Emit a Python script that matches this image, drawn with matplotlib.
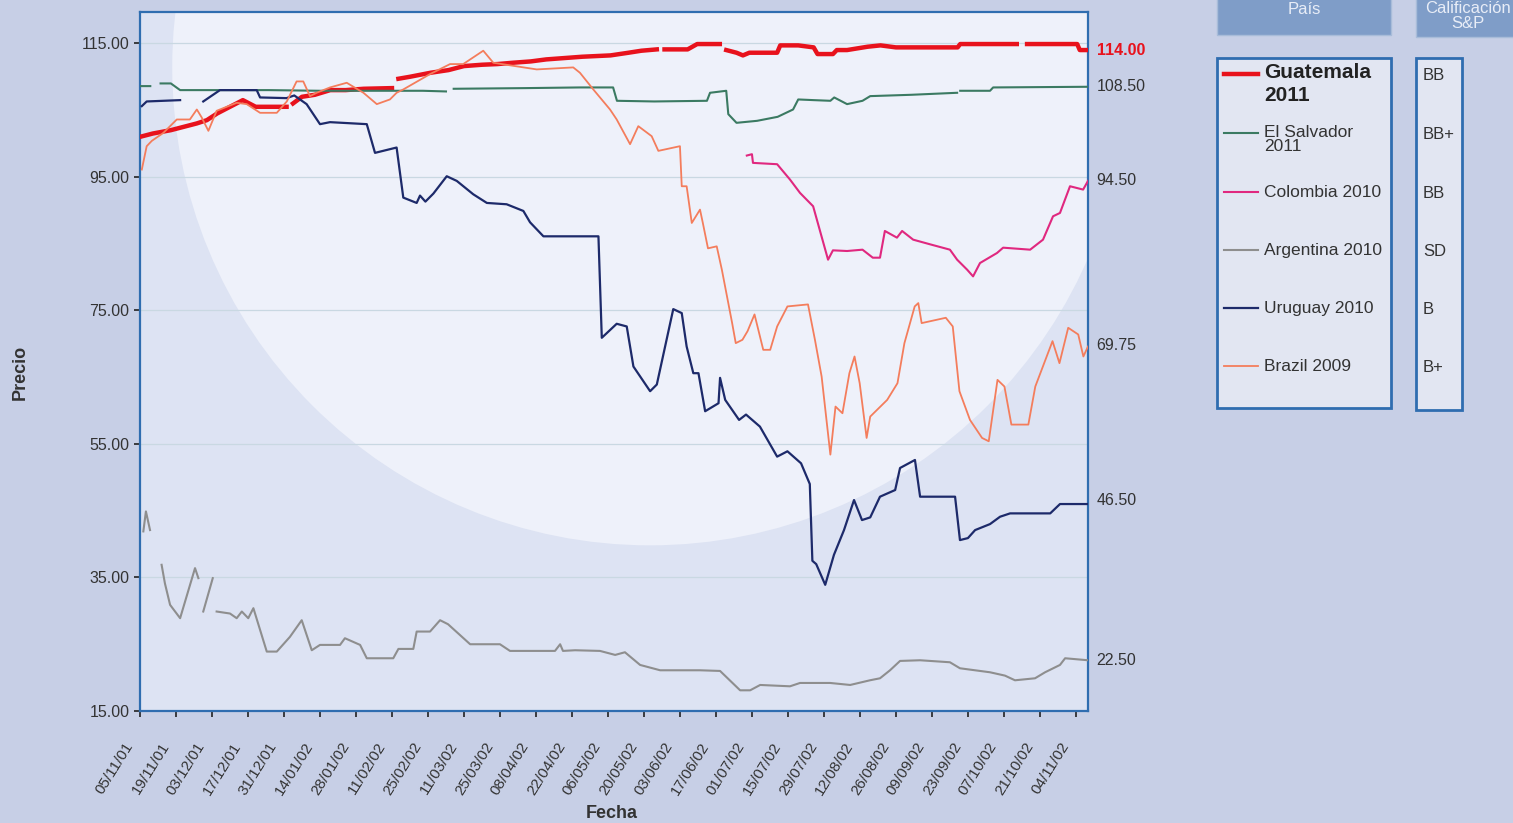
import numpy as np
import matplotlib
matplotlib.use("Agg")
import matplotlib.pyplot as plt
from matplotlib.patches import Rectangle, Ellipse
from matplotlib.lines import Line2D
from matplotlib.transforms import ScaledTranslation

plt.rcParams["font.family"] = ["Liberation Sans", "DejaVu Sans"]

nan = np.nan

# days since 05/11/01, prices
gt_days = [0, 5, 12, 22, 26, 30, 35, 40, 45, 50, 57, 58, 59.5, 63, 68, 74, 80, 87, 98, 99,
           100.5, 105, 113, 120, 126, 133, 139, 145, 152, 158, 165, 172, 183, 190, 195, 201,
           202.5, 204, 213, 216.7, 225.5, 226.5, 228, 232, 234.5, 237, 247.8, 249, 256, 262,
           263.5, 269.5, 271, 275, 283, 288, 294, 318, 319, 341, 343, 345, 364.5, 365.5, 368.7]
gt_vals = [101, 101.5, 102, 103, 103.5, 104.5, 105.5, 106.5, 105.5, 105.5, 105.5, nan, 106,
           107, 107.3, 108, 108, 108.2, 108.3, nan, 109.7, 110, 110.6, 111, 111.6, 111.8,
           111.9, 112.1, 112.3, 112.6, 112.8, 113, 113.2, 113.6, 113.9, 114.1, nan, 114.1,
           114.1, 114.9, 114.9, nan, 114, 113.6, 113.2, 113.6, 113.6, 114.7, 114.7, 114.4,
           113.4, 113.4, 114, 114, 114.5, 114.7, 114.4, 114.4, 114.9, 114.9, nan, 114.9,
           114.9, 114, 114]

sv_days = [0, 4, 6, 8, 12, 15.6, 30, 50, 70, 90, 110, 119, 120.5, 122, 150, 171, 184, 185.5,
           200, 220.5, 221.7, 228, 228.8, 232, 240, 248, 254, 256, 262, 268.5, 270, 275, 281,
           284, 300, 317.8, 318.5, 319, 330.6, 331.8, 368.7]
sv_vals = [108.6, 108.6, nan, 109, 109, 108, 108, 108, 107.9, 107.9, 107.9, 107.8, nan, 108.2,
           108.3, 108.4, 108.4, 106.4, 106.3, 106.4, 107.6, 107.9, 104.4, 103.1, 103.4, 104,
           105.1, 106.6, 106.5, 106.4, 106.9, 105.9, 106.4, 107.1, 107.3, 107.6, nan, 107.9,
           107.9, 108.4, 108.5]

co_days = [236, 238, 238.4, 247.8, 252.8, 256.7, 261.8, 267.6, 269.5, 275, 281, 285, 287.8,
           289.7, 294.4, 296.4, 300.7, 307.3, 315, 317.8, 321.7, 324, 326.7, 333.3, 335.7,
           346.2, 351.2, 355.1, 357.8, 361.7, 366.8, 368.7]
co_vals = [98.2, 98.4, 97.1, 96.9, 94.6, 92.6, 90.6, 82.6, 84, 83.9, 84.1, 82.9, 82.9, 86.9,
           85.9, 86.9, 85.6, 84.9, 84.1, 82.6, 81.1, 80.1, 82.1, 83.6, 84.4, 84.1, 85.6, 89.1,
           89.6, 93.6, 93.1, 94.4]

ar_days = [1.3, 2.3, 3.9, 6, 8.4, 9.7, 11.7, 15.6, 21.4, 22.7, 23.5, 24.6, 28.3, 29, 29.8, 35,
           37.6, 39.6, 42.1, 44.1, 49.3, 53.2, 58.3, 62.9, 66.8, 70, 77.8, 79.7, 85.6, 88.2,
           98.5, 100.5, 106.3, 107.6, 112.8, 116.7, 119.8, 128.4, 140, 143.9, 151.7, 161.4,
           163.4, 164.5, 169.2, 178.9, 184.8, 188.6, 194.5, 202.3, 217.8, 225.6, 233.4, 237.3,
           241.2, 252.8, 256.7, 268.4, 276.2, 283.9, 287.8, 291.7, 295.6, 303.4, 315, 318.9,
           330.6, 336.4, 340.3, 348.1, 352, 357.8, 359.8, 368.7]
ar_vals = [41.9, 44.9, 42.1, nan, 36.9, 34.1, 30.9, 28.9, 36.4, 34.9, nan, 29.9, 34.9, nan,
           29.9, 29.6, 28.9, 29.9, 28.9, 30.4, 23.9, 23.9, 26.1, 28.6, 24.1, 24.9, 24.9, 25.9,
           24.9, 22.9, 22.9, 24.3, 24.3, 26.9, 26.9, 28.6, 28, 25, 25, 24, 24, 24, 25, 24, 24.1,
           24, 23.4, 23.8, 21.9, 21.1, 21.1, 21, 18.1, 18.1, 18.9, 18.7, 19.2, 19.2, 18.9,
           19.6, 19.9, 21.1, 22.5, 22.6, 22.3, 21.4, 20.8, 20.3, 19.6, 19.9, 20.8, 21.9, 22.9,
           22.6]

uy_days = [0.7, 2.6, 15.6, 17, 24.6, 31.1, 45.4, 46.7, 57, 60, 64.8, 70, 73.9, 88.2, 91.4,
           99.8, 102.4, 107.6, 108.9, 111, 114.1, 119.3, 123.2, 129.6, 134.9, 142.6, 149.1,
           151.7, 156.9, 178.3, 179.6, 185.4, 189.3, 191.9, 198.4, 201, 207.4, 210.7, 212.6,
           215.2, 217.2, 219.8, 225, 225.6, 227.6, 233, 235.7, 241.1, 247.8, 251.8, 257.1,
           260.5, 261.5, 263, 266.5, 269.9, 273.8, 277.7, 280.8, 284, 287.8, 293.7, 295.6,
           301.4, 303.4, 317, 318.9, 322, 324.8, 330.6, 334.5, 338.4, 354, 357.8, 368.7]
uy_vals = [105.6, 106.3, 106.5, nan, 106.3, 108, 108, 106.9, 106.8, 107.2, 105.9, 102.9,
           103.2, 102.9, 98.6, 99.4, 91.9, 91.1, 92.2, 91.3, 92.5, 95.1, 94.4, 92.4, 91.1,
           90.9, 89.9, 88.2, 86.1, 86.1, 70.9, 73, 72.6, 66.6, 62.9, 63.9, 75.2, 74.6, 69.6,
           65.6, 65.6, 59.9, 61.1, 64.9, 61.6, 58.6, 59.4, 57.6, 53.1, 53.9, 52.1, 49, 37.5,
           37, 33.9, 38.4, 42.1, 46.6, 43.6, 44, 47.1, 48.1, 51.4, 52.6, 47.1, 47.1, 40.6,
           40.9, 42.1, 43, 44.1, 44.6, 44.6, 46, 46]

br_days = [0.7, 2.6, 4.6, 9.1, 14.3, 19.4, 22.1, 24, 26.6, 29.8, 37.6, 41.5, 46.7, 53.2, 57.1,
           60.9, 63.5, 66.1, 68.7, 73.9, 80.4, 86.9, 92.1, 97.2, 99.8, 102.4, 112.8, 120.6,
           125.7, 133.5, 137.4, 154.3, 168.5, 171.1, 176.3, 182.8, 185.4, 190.6, 193.8, 199,
           201.6, 210, 210.7, 212.6, 214.6, 217.8, 218.9, 220.9, 224.3, 226.3, 230.3, 231.7,
           234.3, 236.3, 239, 242.4, 245.1, 247.8, 251.8, 259.8, 262.5, 265.1, 268.5, 270.5,
           273.2, 275.9, 277.9, 279.9, 282.6, 284, 290.6, 294.6, 297.3, 301.3, 302.7, 304,
           313.4, 316.1, 318.7, 322.8, 327.5, 330.1, 333.5, 336.2, 338.9, 345.5, 348.2, 354.9,
           357.6, 361, 364.9, 366.9, 368.7]
br_vals = [96.1, 99.6, 100.4, 101.6, 103.6, 103.6, 105.1, 103.9, 101.9, 104.9, 106.1, 105.9,
           104.6, 104.6, 106.3, 109.3, 109.3, 107.1, 107.6, 108.4, 109.1, 107.6, 105.9, 106.6,
           107.6, 108.1, 110.4, 111.9, 111.9, 113.9, 112.1, 111.1, 111.4, 110.6, 108.1, 105.1,
           103.6, 99.9, 102.6, 101.1, 98.9, 99.6, 93.6, 93.6, 88.1, 90.1, 88.1, 84.3, 84.6,
           81.1, 73.1, 70.1, 70.6, 71.9, 74.4, 69.1, 69.1, 72.6, 75.6, 75.9, 70.6, 65.1, 53.4,
           60.6, 59.6, 65.6, 68.1, 64.1, 55.9, 59.1, 61.6, 64.1, 70.1, 75.6, 76.1, 73.1, 73.9,
           72.6, 62.9, 58.6, 55.9, 55.4, 64.6, 63.6, 57.9, 57.9, 63.6, 70.4, 67.1, 72.4, 71.4,
           68.1, 69.6]

date_labels = ["05/11/01", "19/11/01", "03/12/01", "17/12/01", "31/12/01", "14/01/02",
               "28/01/02", "11/02/02", "25/02/02", "11/03/02", "25/03/02", "08/04/02",
               "22/04/02", "06/05/02", "20/05/02", "03/06/02", "17/06/02", "01/07/02",
               "15/07/02", "29/07/02", "12/08/02", "26/08/02", "09/09/02", "23/09/02",
               "07/10/02", "21/10/02", "04/11/02"]

names = ["Guatemala\n2011", "El Salvador\n2011", "Colombia 2010", "Argentina 2010",
         "Uruguay 2010", "Brazil 2009"]
ratings = ["BB", "BB+", "BB", "SD", "B", "B+"]
last_labels = ["114.00", "108.50", "94.50", "69.75", "46.50", "22.50"]
colors = ["#e8121c", "#3b7a62", "#e0287f", "#8e8e8e", "#1d2a6a", "#f47d5c"]
widths = [3.2, 1.5, 1.5, 1.5, 1.6, 1.3]

series = [(gt_days, gt_vals), (sv_days, sv_vals), (co_days, co_vals),
          (ar_days, ar_vals), (uy_days, uy_vals), (br_days, br_vals)]

W, H = 1513, 823
fig = plt.figure(figsize=(W / 100, H / 100), dpi=100)
fig.patch.set_facecolor("#c7cfe6")

# background layer in pixel coords (legend boxes, headers)
bg = fig.add_axes([0, 0, 1, 1], zorder=0)
bg.set_xlim(0, W)
bg.set_ylim(H, 0)
bg.axis("off")

# main plot
ax = fig.add_axes([140 / W, 1 - 711 / H, 948 / W, 699 / H], zorder=1)
ax.set_facecolor("#dde3f3")
glow = Ellipse((0.538, 0.921), 1.008, 1.368, transform=ax.transAxes,
               facecolor="#eef1fa", edgecolor="none", zorder=0)
ax.add_patch(glow)

for (d, v), c, lw in zip(series, colors, widths):
    ax.plot(d, v, color=c, lw=lw, zorder=3)

ax.set_xlim(0, 368.7)
ax.set_ylim(15, 119.7)
ax.set_yticks(np.arange(15, 116, 20))
ax.set_yticklabels([f"{t:.2f}" for t in np.arange(15, 116, 20)])
ax.set_xticks(np.arange(len(date_labels)) * 14)
ax.set_xticklabels(date_labels, rotation=58, ha="right", va="center",
                   rotation_mode="anchor")
ax.tick_params(axis="both", direction="out", length=4, width=1.2, color="#222222",
               labelsize=11.5, labelcolor="#333333")
ax.tick_params(axis="x", labelsize=11, pad=0)
shift = ScaledTranslation(-0.1, -0.27, fig.dpi_scale_trans)
for lab in ax.get_xticklabels():
    lab.set_transform(lab.get_transform() + shift)
ax.yaxis.grid(True, color="#c9d8e2", lw=0.9, zorder=1)
ax.set_axisbelow(True)
for s in ax.spines.values():
    s.set_color("#2f6db0")
    s.set_linewidth(1.6)

for lab, c in zip(last_labels, colors):
    bold = lab == "114.00"
    ax.text(1.009, float(lab), lab, transform=ax.get_yaxis_transform(),
            va="center", ha="left", fontsize=11.5,
            color="#e8121c" if bold else "#333333",
            fontweight="bold" if bold else "normal", clip_on=False)

fig.text(612 / W, 1 - 813 / H, "Fecha", ha="center", va="center", fontsize=13,
         fontweight="bold", color="#333333")
fig.text(20 / W, 1 - 372 / H, "Precio", ha="center", va="center", fontsize=13,
         fontweight="bold", color="#333333", rotation=90)

# header boxes
bg.add_patch(Rectangle((1217, -5), 174, 40, facecolor="#7f9dc8", edgecolor="#a8bcd9", lw=1))
bg.text(1304, 9, "País", ha="center", va="center", fontsize=12, color="#e8edf7")
bg.add_patch(Rectangle((1416, -5), 100, 42, facecolor="#7f9dc8", edgecolor="#a8bcd9", lw=1))
bg.text(1468, 16, "Calificación\nS&P", ha="center", va="center", fontsize=12,
        color="#e8edf7", linespacing=1.05)

# legend box and ratings box
bg.add_patch(Rectangle((1217, 58), 174, 350, facecolor="#e2e6f2", edgecolor="#2f6db0", lw=2))
bg.add_patch(Rectangle((1416, 58), 46, 352, facecolor="#e2e6f2", edgecolor="#2f6db0", lw=2))

rows = [74, 133, 192, 250, 308, 366]
for i, (nm, rt, c, lw) in enumerate(zip(names, ratings, colors, widths)):
    y = rows[i]
    bg.add_line(Line2D([1224, 1258], [y, y], color=c, lw=lw))
    if i == 0:
        bg.text(1264, y - 11, nm, ha="left", va="top", fontsize=15, fontweight="bold",
                color="#222222", linespacing=1.25)
    elif i == 1:
        bg.text(1264, y - 8, nm, ha="left", va="top", fontsize=12.5, color="#333333",
                linespacing=0.95)
    else:
        bg.text(1264, y, nm, ha="left", va="center", fontsize=12.5, color="#333333")
    bg.text(1423, y + 1, rt, ha="left", va="center", fontsize=12, color="#333333")

fig.savefig("out.png", dpi=100, facecolor=fig.get_facecolor())
